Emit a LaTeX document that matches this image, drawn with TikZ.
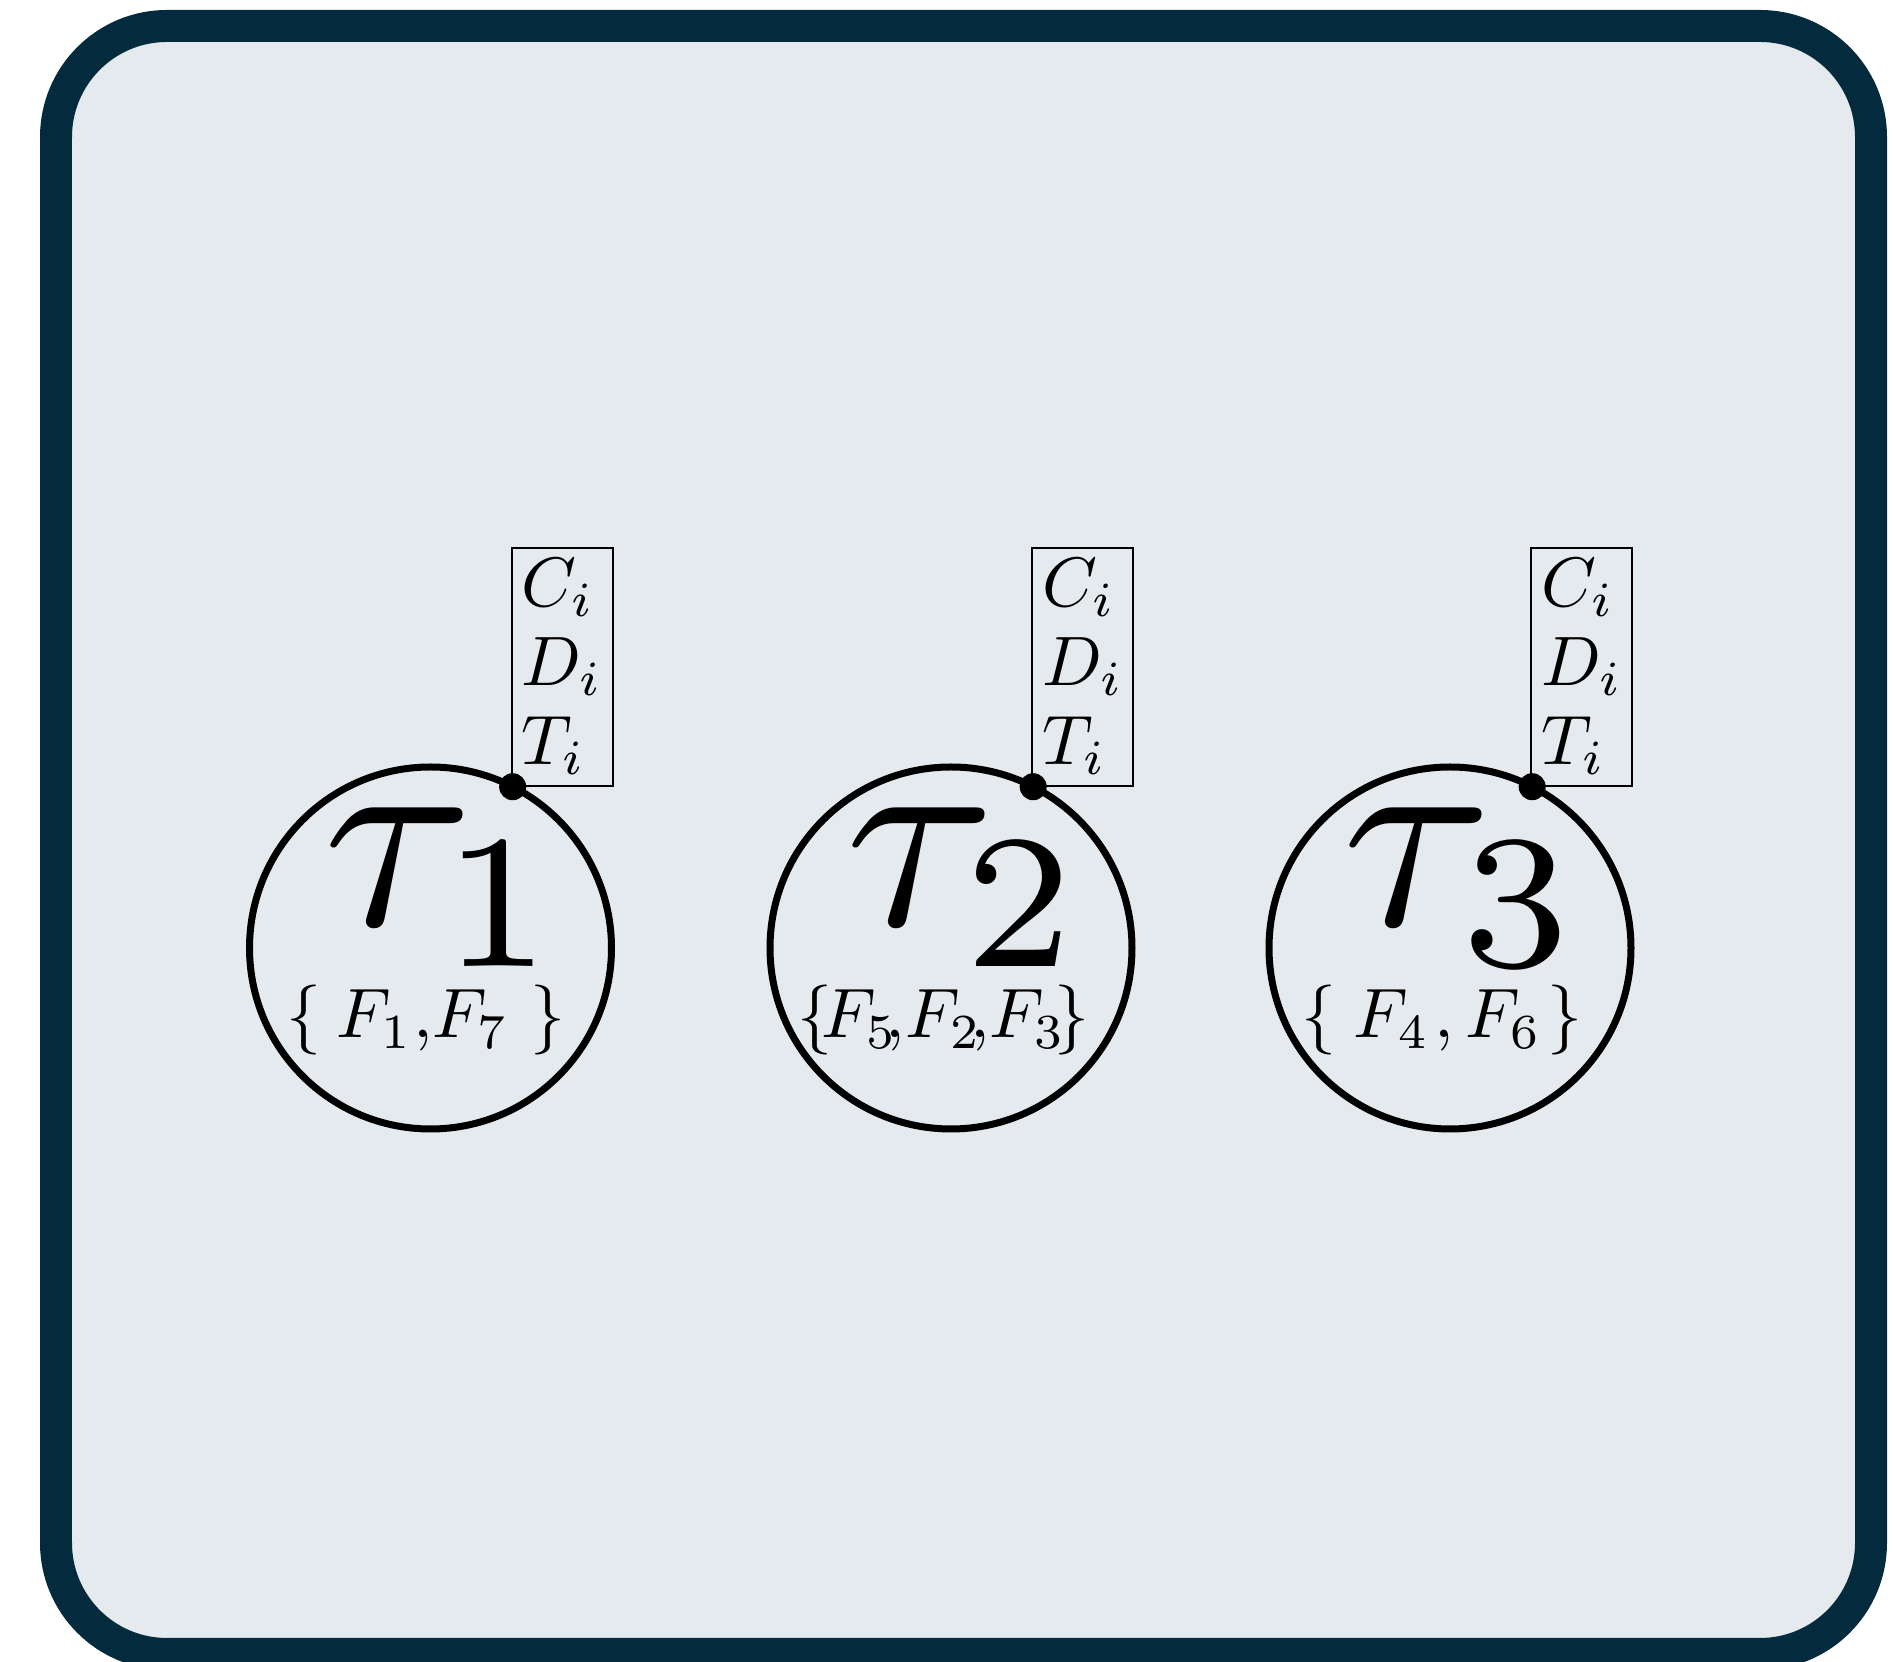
\documentclass[tikz,border=0pt]{standalone}
\usepackage{graphicx}
\definecolor{panelfill}{HTML}{E4EAED}
\definecolor{panelrim}{HTML}{032B3D}
\tikzset{
  rim/.style={draw=panelrim, fill=panelfill, line width=4.57pt, rounded corners=15.86pt},
  task/.style={circle, draw, line width=1pt, minimum size=51.71pt, inner sep=0pt, outer sep=0pt},
  tasklabel/.style={inner sep=0pt, anchor=base},
  flowset/.style={inner sep=0pt, font=\fontsize{10}{12}\selectfont, anchor=base},
  joint/.style={circle, fill, inner sep=0pt, minimum size=3.86pt},
  params/.style={draw, line width=0.3pt, align=left, anchor=south west,
    minimum width=14.43pt, minimum height=34pt, inner sep=0pt,
    font=\fontsize{10}{11.3}\selectfont},
}
\newcommand{\bigtask}[1]{\scalebox{3.9}{$\tau_{#1}$}}
\begin{document}
\begin{tikzpicture}[x=0.142857pt, y=-0.142857pt]
  \useasboundingbox (0,0) rectangle (1893,1662);
  % outer panel
  \path[rim] (56,26) rectangle (1871,1654);

  % task 1
  \node[task] (c1) at (430.5,948) {};
  \node[tasklabel] (l1) at (444,926) {\bigtask{1}};
  \node[flowset] (f1) at (426,1038) {$\{\mkern4mu F_1{,}F_7\mkern5.5mu\}$};
  \node[joint] (d1) at (c1.63) {};
  \node[params, xshift=-0.28pt] (p1) at (d1.center) {$C_i$\\$D_i$\\$T_i$};

  % task 2
  \node[task] (c2) at (951,948) {};
  \node[tasklabel] (l2) at (966,926) {\bigtask{2}};
  \node[flowset] (f2) at (943.5,1038) {$\{\!F_5\!,\!F_2\!,\!F_3\!\}$};
  \node[joint] (d2) at (c2.63) {};
  \node[params, xshift=-0.28pt] (p2) at (d2.center) {$C_i$\\$D_i$\\$T_i$};

  % task 3
  \node[task] (c3) at (1450,948) {};
  \node[tasklabel] (l3) at (1463,926) {\bigtask{3}};
  \node[flowset] (f3) at (1442,1038) {$\{\mkern4.5mu F_4\mkern1.2mu,F_6\mkern1.5mu\}$};
  \node[joint] (d3) at (c3.63) {};
  \node[params, xshift=-0.28pt] (p3) at (d3.center) {$C_i$\\$D_i$\\$T_i$};
\end{tikzpicture}
\end{document}
